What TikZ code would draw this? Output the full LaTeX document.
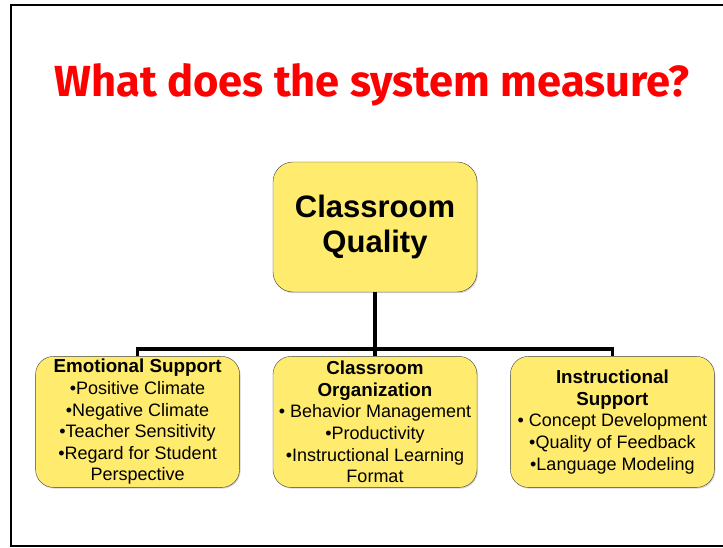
\documentclass[tikz,border=0pt]{standalone}
\usepackage{fontspec}
\setmainfont{Liberation Sans}
\newfontfamily\titlefont{Fira Sans}
\usetikzlibrary{positioning,shadows}
\definecolor{boxyellow}{RGB}{255,236,110}
\definecolor{titlered}{RGB}{255,0,0}
\newcommand{\areahead}[1]{{\fontsize{18.8}{21.6}\selectfont\bfseries #1}}

\begin{document}
\begin{tikzpicture}[x=1pt, y=-1pt,
			topnode/.style={draw=black!75, fill=boxyellow, rounded corners=20pt, minimum width=204pt, minimum height=130pt, inner sep=0pt, align=center, font=\fontsize{31}{35}\selectfont\bfseries, drop shadow={shadow xshift=1pt, shadow yshift=-1.2pt, opacity=0.35}},
			areanode/.style={draw=black!75, fill=boxyellow, rounded corners=18pt, minimum width=204pt, minimum height=131pt, inner sep=0pt, align=center, font=\fontsize{18}{21.6}\selectfont, drop shadow={shadow xshift=1pt, shadow yshift=-1.2pt, opacity=0.35}},
			link/.style={line width=3.6pt},
		]
		
			\useasboundingbox (0,0) rectangle (723,548);
			\draw[line width=1.5pt] (11,546) rectangle (760,5);
		
			%Title
			\node[anchor=base, text=titlered, font=\titlefont\fontsize{43.5}{50}\selectfont\bfseries] (title) at (372,97) {What does the system measure?};
		
			%Nodes
			\node[topnode]	(quality) at (375,227)	{Classroom\\Quality};
			\node[areanode]	(org)	[below=64pt of quality]	{\areahead{Classroom}\\\areahead{Organization}\\• Behavior Management\\•Productivity\\•Instructional Learning\\Format};
			\node[areanode]	(emo)	[left=33pt of org]	{\areahead{Emotional Support}\\•Positive Climate\\•Negative Climate\\•Teacher Sensitivity\\•Regard for Student\\Perspective};
			\node[areanode]	(inst)	[right=33pt of org]	{\areahead{Instructional}\\\areahead{Support}\\• Concept Development\\•Quality of Feedback\\•Language Modeling};
			\coordinate (bus) at (375,349);
		
			%Lines
			\draw[link]	(quality.south) -- (org.north);
			\draw[link]	(emo.north) |- (bus) -| (inst.north);
		
		\end{tikzpicture}
\end{document}
